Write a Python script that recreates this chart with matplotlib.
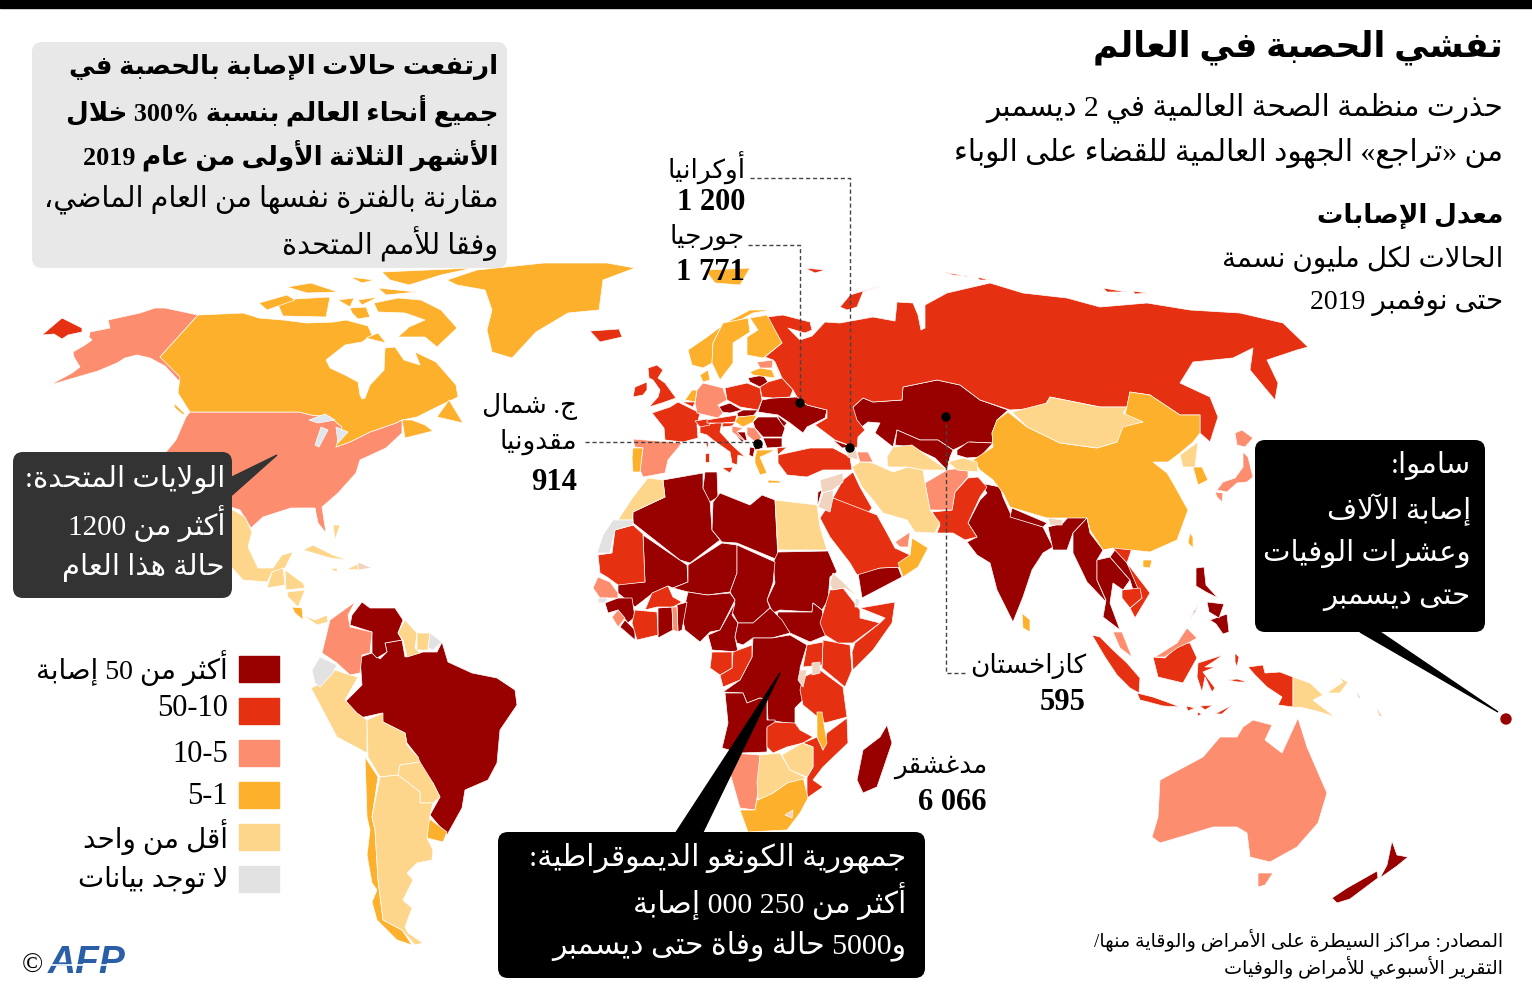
import re
import matplotlib
matplotlib.use('Agg')
import matplotlib.pyplot as plt
from matplotlib.patches import Polygon, FancyBboxPatch, Rectangle, Circle

# digits from the serif, Arabic falls through to DejaVu Sans
plt.rcParams['font.family'] = ['Liberation Serif', 'DejaVu Sans']

# colours of the classes
DARK = '#990000'
RED = '#e63012'
SALMON = '#fd8d6f'
ORANGE = '#fdb02c'
LIGHT = '#fdd68c'
GREY = '#e2e2e2'
PALE = '#f1d4c0'
LAKE = '#dfe6ee'

# country outlines, grouped by class
over_50 = {
    'brazil': [(360,657),(372,653),(380,659),(387,652),(385,643),(402,640),(405,657),(423,652),(437,652),(442,642),(448,662),(472,673),(497,678),(515,690),(517,705),(500,730),(497,763),(488,780),(465,790),(462,808),(447,835),(430,815),(440,797),(433,783),(420,773),(418,757),(407,743),(405,733),(383,722),(382,713),(360,718),(345,702),(362,685)],
    'venezuela': [(352,615),(362,602),(370,608),(395,608),(403,620),(398,633),(402,640),(385,643),(387,652),(377,658),(372,653),(372,632),(350,625)],
    'algeria': [(663,480),(703,473),(703,488),(710,500),(712,530),(720,540),(690,563),(680,560),(633,523),(633,512),(665,497)],
    'tunisia': [(705,472),(717,472),(718,497),(710,502),(703,488)],
    'libya': [(713,502),(720,493),(750,505),(762,495),(775,500),(778,560),(737,543),(722,542),(712,530)],
    'sudan': [(778,552),(828,551),(837,572),(830,577),(828,600),(822,610),(813,603),(812,612),(780,610),(773,613),(767,600),(775,583),(773,563)],
    'south_sudan': [(778,612),(812,612),(813,603),(822,610),(827,635),(810,642),(790,633),(777,618)],
    'mali': [(643,535),(687,565),(688,582),(673,588),(668,586),(653,593),(635,607),(618,593),(618,584),(645,582)],
    'niger': [(688,565),(722,543),(737,545),(737,573),(730,592),(707,595),(688,592),(673,588),(688,582)],
    'chad': [(737,545),(775,562),(773,583),(767,600),(770,608),(753,623),(738,623),(732,612),(735,600),(730,592),(737,573)],
    'nigeria': [(688,592),(707,595),(730,593),(735,600),(720,630),(710,632),(700,642),(685,630),(682,617)],
    'cameroon': [(735,603),(732,615),(738,623),(735,637),(738,652),(712,650),(708,635),(720,630)],
    'car': [(770,608),(782,620),(790,633),(772,638),(753,638),(743,645),(737,643),(735,637),(738,623),(753,623)],
    'drc': [(753,638),(772,638),(790,635),(807,645),(800,668),(803,700),(795,708),(795,723),(800,730),(787,723),(768,720),(767,700),(760,698),(747,703),(743,693),(723,692),(740,680),(752,657)],
    'angola': [(725,693),(743,693),(747,703),(760,698),(767,700),(767,720),(775,720),(775,727),(767,728),(767,752),(740,753),(722,748),(728,723)],
    'guinea': [(605,603),(618,598),(632,598),(635,617),(628,623),(618,610),(608,613)],
    'liberia': [(620,627),(625,620),(635,630),(635,640),(627,633)],
    'ghana': [(658,608),(672,607),(673,630),(658,638)],
    'benin': [(677,605),(687,602),(682,630),(678,632)],
    'madagascar': [(887,725),(892,743),(877,787),(863,793),(857,780),(863,750),(880,737)],
    'yemen': [(858,573),(880,568),(898,567),(902,577),(862,598)],
    'israel': [(818,492),(822,490),(817,508)],
    'kazakhstan': [(853,407),(863,398),(873,402),(902,400),(903,387),(937,380),(960,385),(980,400),(1008,410),(997,420),(992,433),(993,443),(970,442),(953,450),(938,440),(920,440),(897,430),(893,447),(875,433),(880,423),(868,422),(858,430),(853,417)],
    'uzbekistan': [(897,430),(920,440),(938,440),(953,450),(950,457),(947,470),(935,458),(912,447),(895,445)],
    'kyrgyzstan': [(957,450),(968,442),(993,443),(980,457),(967,458),(957,455)],
    'india': [(980,483),(1000,487),(1003,497),(1012,517),(1043,527),(1053,547),(1043,553),(1032,570),(1023,597),(1013,622),(997,590),(990,563),(977,555),(967,542),(977,537),(968,523),(980,500),(987,493)],
    'ne_india': [(1048,527),(1063,523),(1070,515),(1080,513),(1087,518),(1073,533),(1067,550),(1053,550)],
    'nepal': [(1012,508),(1047,523),(1043,527),(1010,517)],
    'myanmar': [(1087,518),(1090,533),(1103,550),(1097,560),(1097,580),(1107,603),(1087,582),(1073,553),(1073,533)],
    'thailand': [(1097,560),(1110,557),(1130,580),(1123,590),(1113,583),(1110,603),(1120,630),(1103,617),(1106,600),(1097,580)],
    'laos': [(1110,557),(1117,547),(1127,563),(1140,587),(1133,590),(1130,580)],
    'luzon': [(1196,568),(1204,567),(1206,585),(1218,598),(1206,592),(1196,586)],
    'mindanao': [(1210,620),(1227,614),(1229,632),(1223,634),(1216,624)],
    'visayas': [(1207,602),(1224,604),(1219,618),(1209,612)],
    'palawan': [(1198,604),(1190,619),(1195,612)],
    'nz_south': [(1332,898),(1347,888),(1377,871),(1378,878),(1350,899),(1337,903)],
    'nz_north': [(1392,841),(1397,855),(1408,857),(1397,866),(1380,878),(1387,865)],
    'ukraine': [(762,400),(773,398),(797,397),(807,405),(827,410),(825,418),(807,427),(803,433),(790,423),(778,415),(758,412)],
    'moldova': [(777,415),(787,423),(783,428)],
    'romania': [(753,422),(758,417),(777,417),(785,428),(782,437),(763,437),(755,428)],
    'bulgaria': [(763,438),(782,438),(782,447),(767,448)],
    'bosnia': [(733,432),(745,432),(747,440),(742,442)],
    'albania': [(750,447),(755,448),(753,457),(749,455)],
    'macedonia': [(753,442),(762,443),(763,448),(755,450)],
    'georgia': [(833,440),(853,447),(842,448)],
    'czechia': [(718,407),(730,403),(742,410),(730,413),(722,412)],
    'slovakia': [(737,413),(743,410),(758,410),(753,416),(738,417)],
    'lithuania': [(748,378),(763,375),(768,382),(760,387),(750,382)],
}
from_10_to_50 = {
    'russia': [(767,317),(783,315),(810,322),(812,330),(805,333),(788,328),(800,340),(812,336),(825,322),(840,323),(873,317),(895,321),(897,302),(913,303),(918,315),(921,330),(925,328),(925,305),(947,293),(990,283),(1023,293),(1067,298),(1100,307),(1147,303),(1190,310),(1240,313),(1283,323),(1308,347),(1297,350),(1267,360),(1278,383),(1275,400),(1250,370),(1253,348),(1233,358),(1193,362),(1180,383),(1210,397),(1218,417),(1210,442),(1200,433),(1200,415),(1180,415),(1150,395),(1130,392),(1127,407),(1100,407),(1050,397),(1043,408),(1010,410),(980,400),(960,385),(937,380),(903,387),(902,400),(873,402),(863,398),(853,407),(857,420),(865,430),(858,437),(857,448),(835,440),(815,425),(827,418),(827,410),(807,405),(797,397),(793,390),(782,378),(775,362),(773,360),(765,357),(782,343)],
    'sakhalin': [(1208,385),(1238,425),(1227,410)],
    'novaya_zemlya': [(840,307),(850,295),(883,285),(863,292),(857,307),(847,310)],
    'arctic_1': [(943,272),(973,277),(953,275)],
    'arctic_2': [(977,277),(990,280),(980,280)],
    'arctic_3': [(1103,288),(1127,292),(1107,292)],
    'arctic_4': [(1133,291),(1147,293),(1135,294)],
    'arctic_5': [(805,268),(825,270),(815,273)],
    'chukotka': [(42,335),(62,318),(70,322),(82,328),(82,332),(68,335),(62,339),(54,334)],
    'iceland': [(590,331),(619,329),(622,337),(600,342)],
    'uk': [(648,368),(657,365),(663,370),(658,378),(665,383),(676,398),(662,403),(649,407),(658,397),(660,390),(653,380),(649,378)],
    'ireland': [(633,397),(635,387),(647,382),(647,390),(643,395)],
    'france': [(652,413),(670,407),(678,402),(700,413),(697,425),(698,438),(683,442),(665,440),(664,428)],
    'belgium': [(682,402),(695,402),(693,407)],
    'poland': [(725,388),(747,383),(760,388),(762,400),(758,410),(740,407),(727,400)],
    'belarus': [(760,387),(768,382),(782,378),(793,390),(790,397),(773,398),(762,397)],
    'italy': [(700,425),(722,422),(720,432),(732,445),(745,457),(738,455),(737,465),(732,463),(730,452),(713,440),(707,435),(700,433)],
    'sicily': [(722,468),(733,467),(730,473)],
    'sardinia': [(705,453),(709,453),(709,462),(705,462)],
    'corsica': [(706,443),(709,443),(707,449)],
    'switzerland': [(695,421),(707,419),(710,425),(700,427)],
    'austria': [(707,420),(718,418),(737,415),(735,422),(723,423),(707,423)],
    'slovenia': [(723,423),(735,423),(732,426),(722,427)],
    'turkey': [(778,455),(810,448),(833,448),(850,457),(852,470),(823,470),(807,477),(787,475),(778,463)],
    'turkey_eu': [(777,448),(787,447),(778,455)],
    'iraq': [(833,498),(843,480),(853,472),(860,487),(872,508),(868,513),(853,508)],
    'saudi': [(820,518),(833,498),(877,515),(887,533),(895,548),(910,555),(905,567),(880,568),(857,575),(850,563),(830,537)],
    'pakistan': [(932,512),(952,510),(955,492),(968,478),(978,477),(987,487),(980,497),(968,523),(977,537),(965,540),(953,533),(937,533),(940,525)],
    'vietnam': [(1113,548),(1133,545),(1127,563),(1150,593),(1135,618),(1130,608),(1142,598),(1127,563)],
    'cambodia': [(1122,590),(1140,588),(1142,598),(1130,608),(1122,598)],
    'sumatra': [(1092,635),(1100,637),(1113,650),(1127,663),(1140,678),(1139,693),(1130,688),(1117,675),(1105,657)],
    'java': [(1137,693),(1153,697),(1167,702),(1180,707),(1163,706),(1148,702),(1140,700)],
    'sunda_1': [(1186,706),(1195,708),(1188,711)],
    'sunda_2': [(1200,706),(1213,705),(1205,710)],
    'sunda_3': [(1197,712),(1202,714),(1198,716)],
    'sunda_4': [(1215,714),(1232,705),(1222,714)],
    'kalimantan': [(1153,657),(1165,658),(1180,643),(1190,643),(1197,658),(1183,683),(1158,677)],
    'sulawesi': [(1198,663),(1223,655),(1213,662),(1205,667),(1215,667),(1203,672),(1215,688),(1212,692),(1205,677),(1202,692),(1197,677)],
    'halmahera': [(1235,653),(1239,657),(1237,667),(1235,662)],
    'seram': [(1228,680),(1237,679),(1248,682),(1238,682)],
    'papua': [(1248,667),(1263,665),(1265,673),(1280,672),(1293,677),(1293,707),(1278,705),(1282,697),(1267,687),(1255,675)],
    'mauritania': [(633,525),(643,534),(645,582),(618,585),(607,577),(600,573),(598,555),(612,553),(615,530)],
    'ivory_coast': [(632,623),(635,610),(657,612),(658,635),(637,640)],
    'burkina': [(645,610),(652,593),(668,586),(673,597),(682,602),(673,607),(657,607)],
    'congo': [(733,652),(752,645),(752,657),(740,680),(723,687),(720,675),(732,668)],
    'gabon': [(712,652),(732,652),(732,668),(720,675),(710,668)],
    'zambia': [(767,727),(775,722),(795,723),(800,730),(813,737),(803,743),(787,747),(773,753),(767,747)],
    'mozambique': [(803,743),(817,737),(823,750),(827,733),(847,718),(848,743),(823,767),(813,780),(823,787),(807,798),(807,777),(813,767),(813,747)],
    'tanzania': [(803,677),(820,670),(843,687),(847,717),(825,723),(803,705),(800,690)],
    'kenya': [(823,640),(850,645),(852,670),(845,687),(822,668)],
    'uganda': [(807,645),(823,642),(822,665),(803,667)],
    'ethiopia': [(820,623),(830,590),(843,588),(860,610),(860,618),(880,623),(853,643),(838,643),(825,635)],
    'somalia': [(860,608),(895,602),(892,623),(873,650),(853,670),(852,652),(855,643),(880,623),(885,618)],
}
from_5_to_10 = {
    'alaska': [(198,315),(160,357),(178,370),(183,378),(179,381),(165,366),(150,358),(137,355),(125,358),(117,363),(98,371),(50,385),(72,373),(80,367),(74,357),(73,352),(85,345),(92,340),(89,337),(90,332),(110,328),(108,320),(140,313),(155,308),(165,308)],
    'usa': [(190,412),(299,412),(311,415),(330,417),(342,427),(336,447),(350,442),(370,432),(396,423),(402,420),(402,433),(386,448),(360,460),(356,473),(338,493),(322,507),(326,533),(318,523),(315,508),(291,508),(263,517),(251,528),(240,510),(225,505),(175,470),(166,452),(176,440),(186,417)],
    'colombia': [(355,602),(348,615),(350,627),(372,632),(370,653),(362,655),(360,673),(350,675),(337,663),(322,653),(330,620)],
    'germany': [(703,383),(723,388),(727,400),(718,405),(723,413),(718,418),(697,413),(695,403),(697,390)],
    'spain': [(633,439),(682,443),(668,460),(665,473),(643,477),(640,470),(643,448),(635,447)],
    'estonia': [(757,362),(773,360),(772,368),(760,368)],
    'serbia': [(747,427),(755,428),(762,438),(755,442),(747,435)],
    'croatia': [(732,426),(743,428),(737,432),(747,443),(732,432)],
    'senegal': [(593,588),(598,577),(610,582),(618,593),(618,598),(600,598)],
    'sierra_leone': [(612,617),(618,610),(625,618),(618,627)],
    'togo': [(672,607),(677,607),(678,632),(673,630)],
    'namibia': [(733,753),(760,755),(760,780),(755,810),(740,808),(730,773)],
    'azerbaijan': [(857,452),(868,452),(873,462),(860,462)],
    'afghanistan': [(925,483),(947,470),(968,467),(968,477),(955,492),(952,510),(930,510)],
    'uae': [(895,542),(910,532),(908,547),(900,547)],
    'honshu': [(1243,452),(1248,457),(1253,477),(1247,482),(1237,483),(1227,492),(1217,490),(1223,482),(1235,478),(1243,467)],
    'hokkaido': [(1235,433),(1242,430),(1253,438),(1245,447),(1237,445)],
    'kyushu': [(1215,492),(1223,493),(1222,502),(1217,497)],
    'malaya': [(1113,632),(1122,632),(1132,657),(1120,648)],
    'sarawak': [(1155,657),(1177,643),(1187,628),(1197,638),(1190,642),(1177,648),(1165,657)],
    'australia': [(1253,720),(1272,725),(1265,740),(1282,753),(1298,718),(1307,747),(1320,777),(1327,793),(1318,823),(1297,847),(1270,862),(1250,857),(1247,833),(1237,827),(1213,827),(1187,835),(1160,843),(1152,837),(1158,817),(1160,780),(1203,757),(1220,737),(1237,737),(1243,727)],
    'tasmania': [(1258,873),(1273,873),(1265,885),(1258,887)],
}
from_1_to_5 = {
    'canada': [(198,315),(243,313),(259,318),(283,320),(307,323),(334,322),(346,320),(368,326),(372,335),(362,342),(345,345),(326,360),(330,368),(345,375),(358,382),(360,395),(362,399),(365,398),(370,385),(384,370),(385,348),(395,347),(404,360),(420,365),(415,352),(436,362),(456,385),(458,397),(437,407),(417,417),(402,420),(396,423),(370,432),(350,442),(336,447),(342,427),(330,417),(311,415),(299,412),(190,412),(178,393),(180,377),(160,357)],
    'maritimes': [(402,420),(412,420),(425,425),(433,431),(405,438)],
    'newfoundland': [(437,417),(449,400),(463,423),(450,420)],
    'vancouver': [(174,403),(186,415),(182,414),(175,408)],
    'baffin': [(374,303),(398,298),(421,300),(441,310),(457,328),(437,347),(425,337),(398,337),(409,327),(425,320),(405,313),(378,312)],
    'victoria': [(276,300),(330,297),(326,317),(283,316)],
    'banks': [(259,303),(287,295),(295,300),(267,310)],
    'ellesmere': [(382,272),(473,268),(441,275),(409,285),(390,280)],
    'arctic_a': [(287,287),(311,283),(338,292),(307,293)],
    'arctic_b': [(350,277),(374,280),(362,283)],
    'arctic_c': [(378,288),(417,292),(386,295)],
    'arctic_d': [(338,300),(354,298),(350,307)],
    'arctic_e': [(358,300),(378,297),(362,305)],
    'arctic_f': [(350,308),(366,307),(370,317),(358,319),(352,313)],
    'southampton': [(366,338),(378,333),(386,343)],
    'greenland': [(447,280),(477,270),(544,263),(607,263),(635,268),(603,280),(599,310),(568,313),(536,332),(512,358),(492,352),(487,330),(492,310),(485,290),(457,285)],
    'svalbard': [(705,270),(750,268),(740,285),(715,283)],
    'norway': [(688,350),(707,337),(727,322),(750,310),(772,310),(753,313),(740,320),(723,323),(713,343),(712,363),(703,368),(692,365)],
    'sweden': [(723,323),(748,318),(750,332),(733,343),(733,363),(720,380),(712,363),(713,343)],
    'finland': [(750,318),(767,315),(782,343),(763,358),(747,355),(747,337),(758,330)],
    'denmark': [(700,375),(708,370),(710,380),(703,382)],
    'latvia': [(750,372),(760,368),(772,370),(775,378),(753,375)],
    'netherlands': [(685,400),(692,390),(697,390),(695,402)],
    'portugal': [(632,458),(633,448),(643,448),(640,472),(633,472)],
    'hungary': [(735,422),(738,417),(757,415),(753,422),(743,427)],
    'greece': [(755,457),(757,450),(775,450),(765,455),(760,457),(767,473),(760,475),(755,463)],
    'crete': [(768,480),(780,481),(780,483),(768,483)],
    'costa_rica': [(292,607),(302,608),(303,620),(295,613)],
    'uruguay': [(427,817),(447,832),(443,842),(427,838)],
    'chile': [(365,757),(378,777),(372,817),(375,830),(378,880),(383,920),(402,930),(412,945),(397,940),(377,920),(372,902),(377,890),(372,883),(367,855),(370,830),(367,817)],
    'china': [(1008,412),(1027,427),(1060,443),(1097,448),(1117,442),(1123,425),(1143,422),(1125,415),(1130,392),(1150,395),(1180,415),(1200,415),(1200,433),(1193,442),(1180,453),(1168,462),(1153,462),(1167,473),(1173,483),(1188,510),(1177,540),(1150,552),(1113,548),(1103,550),(1090,530),(1087,518),(1047,518),(1010,507),(1003,493),(993,480),(980,470),(973,460),(993,447),(992,433),(997,420)],
    'south_korea': [(1193,467),(1202,467),(1208,480),(1198,485)],
    'taiwan': [(1190,533),(1193,537),(1193,548),(1188,543)],
    'hainan': [(1143,560),(1152,560),(1150,568),(1143,567)],
    'sri_lanka': [(1022,613),(1030,620),(1030,632),(1023,628)],
    'oman': [(898,563),(910,555),(912,538),(928,548),(918,567),(903,577)],
    'malawi': [(817,712),(822,712),(827,743),(823,750),(817,737)],
    'south_africa': [(757,800),(773,793),(787,783),(803,777),(808,798),(800,813),(787,830),(748,832),(740,810),(755,810)],
}
under_1 = {
    'mexico': [(233,510),(245,517),(252,532),(248,547),(258,568),(273,568),(282,555),(293,552),(285,568),(272,572),(267,582),(243,580),(225,560),(225,510)],
    'guatemala': [(272,572),(283,568),(285,585),(267,588)],
    'honduras': [(285,570),(303,583),(305,588),(286,590)],
    'nicaragua': [(287,592),(305,590),(298,607),(288,597)],
    'panama': [(303,615),(315,620),(327,615),(328,622),(317,625)],
    'cuba': [(303,550),(313,545),(333,555),(348,560),(330,558)],
    'haiti': [(347,569),(358,564),(358,570)],
    'jamaica': [(330,569),(337,568),(337,572)],
    'bahamas': [(333,525),(340,525),(335,540)],
    'guyana': [(405,620),(417,633),(415,648),(420,653),(407,657),(403,640),(398,633)],
    'suriname': [(417,633),(430,633),(428,650),(417,650)],
    'peru': [(311,688),(317,685),(335,670),(350,675),(358,677),(345,700),(357,713),(367,720),(367,753),(337,737)],
    'bolivia': [(367,720),(383,713),(383,722),(405,733),(407,745),(418,757),(420,762),(400,765),(398,775),(380,777),(368,757)],
    'paraguay': [(400,765),(420,762),(433,783),(440,797),(433,803),(420,803),(420,792),(398,775)],
    'argentina': [(380,777),(398,775),(420,792),(420,803),(433,803),(430,815),(427,838),(433,850),(432,860),(417,863),(407,873),(413,880),(403,900),(412,908),(405,927),(408,933),(423,943),(415,945),(402,930),(383,920),(378,880),(375,830),(372,817)],
    'morocco': [(648,478),(663,480),(665,497),(633,512),(632,520),(618,520),(633,497)],
    'egypt': [(775,500),(817,505),(820,527),(827,550),(778,550)],
    'botswana': [(760,755),(780,753),(790,770),(807,778),(787,783),(773,793),(758,800),(757,782)],
    'zimbabwe': [(782,755),(802,743),(813,747),(813,767),(807,777),(790,770)],
    'iran': [(852,467),(860,462),(873,463),(893,472),(908,467),(923,470),(925,483),(930,510),(940,523),(935,533),(915,532),(907,520),(883,513),(873,500),(862,487)],
    'turkmenistan': [(887,457),(893,447),(912,445),(937,463),(947,470),(923,470),(908,467),(888,467)],
    'tajikistan': [(948,462),(963,458),(977,462),(978,472),(957,470)],
    'mongolia': [(1012,412),(1047,403),(1050,397),(1100,407),(1127,407),(1123,413),(1143,422),(1123,427),(1117,442),(1097,448),(1060,443),(1027,427)],
    'north_korea': [(1180,455),(1198,442),(1195,467),(1183,467)],
    'png': [(1293,677),(1310,683),(1323,695),(1313,700),(1335,717),(1320,712),(1300,707),(1293,708)],
    'new_britain': [(1327,693),(1343,682),(1338,677),(1348,682),(1340,693)],
}
no_data = {
    'french_guiana': [(430,633),(442,642),(433,650),(428,648)],
    'ecuador': [(312,670),(320,657),(337,665),(333,673),(320,687),(315,683)],
    'western_sahara': [(613,520),(633,520),(633,525),(615,530),(610,553),(597,553),(603,535)],
    'guinea_bissau': [(598,598),(608,598),(605,603),(598,603)],
    'djibouti': [(855,598),(860,600),(858,607),(855,607)],
}
pale_countries = {
    'dominican': [(358,562),(372,568),(358,570)],
    'syria': [(820,480),(843,473),(843,482),(833,490),(822,493)],
    'jordan': [(823,493),(833,490),(833,498),(830,512),(818,507)],
    'eritrea': [(830,583),(833,573),(843,582),(858,597),(845,588),(832,590)],
    'rwanda': [(800,670),(807,670),(803,687),(798,680)],
    'lake_region': [(812,663),(820,662),(820,673),(812,675)],
    'armenia': [(845,448),(856,450),(858,460),(848,457)],
    'bhutan': [(1048,518),(1063,520),(1062,525),(1050,525)],
    'solomons_1': [(1355,690),(1361,697),(1359,699)],
    'solomons_2': [(1375,705),(1383,717),(1379,716)],
    'lesotho': [(785,815),(793,810),(792,818)],
}
great_lakes = {
    'superior': [(309,420),(325,414),(335,420),(318,423)],
    'michigan': [(321,427),(328,430),(319,447),(315,445)],
    'huron': [(336,427),(348,432),(338,443)],
}

classes = [(over_50, DARK), (from_10_to_50, RED), (from_5_to_10, SALMON), (from_1_to_5, ORANGE),
           (under_1, LIGHT), (no_data, GREY), (pale_countries, PALE), (great_lakes, LAKE)]

legend_labels = ['أكثر من 50 إصابة', '50-10', '10-5', '5-1', 'أقل من واحد', 'لا توجد بيانات']
legend_colors = [DARK, RED, SALMON, ORANGE, LIGHT, GREY]

title = 'تفشي الحصبة في العالم'
subtitle = ['حذرت منظمة الصحة العالمية في 2 ديسمبر', 'من «تراجع» الجهود العالمية للقضاء على الوباء']
rate_head = 'معدل الإصابات'
rate_lines = ['الحالات لكل مليون نسمة', 'حتى نوفمبر 2019']
box_bold = ['ارتفعت حالات الإصابة بالحصبة في', 'جميع أنحاء العالم بنسبة 300% خلال', 'الأشهر الثلاثة الأولى من عام 2019']
box_plain = ['مقارنة بالفترة نفسها من العام الماضي،', 'وفقا للأمم المتحدة']
us_note = ['الولايات المتحدة:', 'أكثر من 1200', 'حالة هذا العام']
samoa_note = ['ساموا:', 'إصابة الآلاف', 'وعشرات الوفيات', 'حتى ديسمبر']
drc_note = ['جمهورية الكونغو الديموقراطية:', 'أكثر من 250 000 إصابة', 'و5000 حالة وفاة حتى ديسمبر']
source = ['المصادر: مراكز السيطرة على الأمراض والوقاية منها/', 'التقرير الأسبوعي للأمراض والوفيات']

# joining forms: isolated code point, and how many forms it has
FORMS = {'ء': (0xFE80, 1), 'آ': (0xFE81, 2), 'أ': (0xFE83, 2), 'ؤ': (0xFE85, 2), 'إ': (0xFE87, 2),
         'ئ': (0xFE89, 4), 'ا': (0xFE8D, 2), 'ب': (0xFE8F, 4), 'ة': (0xFE93, 2), 'ت': (0xFE95, 4),
         'ث': (0xFE99, 4), 'ج': (0xFE9D, 4), 'ح': (0xFEA1, 4), 'خ': (0xFEA5, 4), 'د': (0xFEA9, 2),
         'ذ': (0xFEAB, 2), 'ر': (0xFEAD, 2), 'ز': (0xFEAF, 2), 'س': (0xFEB1, 4), 'ش': (0xFEB5, 4),
         'ص': (0xFEB9, 4), 'ض': (0xFEBD, 4), 'ط': (0xFEC1, 4), 'ظ': (0xFEC5, 4), 'ع': (0xFEC9, 4),
         'غ': (0xFECD, 4), 'ف': (0xFED1, 4), 'ق': (0xFED5, 4), 'ك': (0xFED9, 4), 'ل': (0xFEDD, 4),
         'م': (0xFEE1, 4), 'ن': (0xFEE5, 4), 'ه': (0xFEE9, 4), 'و': (0xFEED, 2), 'ى': (0xFEEF, 2),
         'ي': (0xFEF1, 4)}
LAM_ALEF = {'ا': 0xFEFB, 'أ': 0xFEF7, 'إ': 0xFEF9, 'آ': 0xFEF5}
MIRROR = {'«': '»', '»': '«'}


def shape_word(word):
    # logical order in, presentation forms in logical order out
    out = []
    i = 0
    prev_joins = False
    while i < len(word):
        c = word[i]
        if c not in FORMS:
            out.append(c)
            prev_joins = False
            i += 1
            continue
        if c == 'ل' and i + 1 < len(word) and word[i + 1] in LAM_ALEF:
            out.append(chr(LAM_ALEF[word[i + 1]] + (1 if prev_joins else 0)))
            prev_joins = False
            i += 2
            continue
        base, n = FORMS[c]
        next_ok = i + 1 < len(word) and word[i + 1] in FORMS
        if n == 1:
            out.append(chr(base))
            prev_joins = False
        elif n == 2:
            out.append(chr(base + (1 if prev_joins else 0)))
            prev_joins = False
        else:
            if prev_joins and next_ok:
                out.append(chr(base + 3))
            elif prev_joins:
                out.append(chr(base + 1))
            elif next_ok:
                out.append(chr(base + 2))
            else:
                out.append(chr(base))
            prev_joins = next_ok
        i += 1
    return ''.join(out)


def ar(line):
    # matplotlib does no shaping or bidi, so hand it the visual order
    words = []
    for word in line.split(' '):
        runs = re.findall(r'[0-9%\-]+|[^0-9%\-]+', word)
        vis = []
        for run in reversed(runs):
            if re.match(r'[0-9%\-]', run):
                vis.append(run)
            else:
                vis.append(''.join(MIRROR.get(c, c) for c in reversed(shape_word(run))))
        words.append(''.join(vis))
    return ' '.join(reversed(words))


fig = plt.figure(figsize=(15.32, 9.92), dpi=100)
ax = fig.add_axes([0, 0, 1, 1])
ax.set_xlim(0, 1532)
ax.set_ylim(992, 0)
ax.axis('off')

ax.add_patch(Rectangle((0, 0), 1532, 8, color='black', zorder=9))

for group, color in classes:
    for name, outline in group.items():
        ax.add_patch(Polygon(outline, closed=True, facecolor=color, edgecolor='white', linewidth=0.5,
                             joinstyle='round', zorder=2))
ax.add_patch(Circle((1506, 719), 5, color=DARK, zorder=6))


def rbox(x0, y0, x1, y1, color, z=5, r=10):
    ax.add_patch(FancyBboxPatch((x0 + r, y0 + r), x1 - x0 - 2 * r, y1 - y0 - 2 * r,
                                boxstyle='round,pad=%d,rounding_size=%d' % (r, r),
                                facecolor=color, edgecolor='none', zorder=z))


def put(x, y, s, size, color='black', bold=False, raw=False):
    ax.text(x, y, s if raw else ar(s), fontsize=size, color=color, ha='right', va='center',
            fontweight='bold' if bold else 'normal', zorder=8)


# leader lines
LEAD = dict(color='#444444', linewidth=1, linestyle=(0, (3, 2)), zorder=4)
ax.plot([750, 850, 850], [178, 178, 448], **LEAD)
ax.plot([748, 800, 800], [245, 245, 403], **LEAD)
ax.plot([585, 758], [442, 442], **LEAD)
ax.plot([946, 946, 965], [417, 673, 673], **LEAD)
for x, y in [(800, 403), (850, 448), (758, 444), (946, 417)]:
    ax.add_patch(Circle((x, y), 4, color='black', zorder=5))

# header
put(1503, 47, title, 25, bold=True)
put(1503, 108, subtitle[0], 21.3)
put(1503, 153, subtitle[1], 21.3)
put(1503, 216, rate_head, 19, bold=True)
put(1503, 260, rate_lines[0], 20)
put(1503, 304, rate_lines[1], 20)

# grey text box
rbox(32, 42, 507, 268, '#e8e8e8', z=3)
for y, s in zip([67, 111, 155], box_bold):
    put(498, y, s, 18.8, bold=True)
for y, s in zip([199, 244], box_plain):
    put(498, y, s, 20.6)

# country labels
put(745, 168, 'أوكرانيا', 19)
put(745, 203, '1 200', 22, bold=True, raw=True)
put(745, 237, 'جورجيا', 19)
put(745, 272, '1 771', 22, bold=True, raw=True)
put(577, 406, 'ج. شمال', 19)
put(577, 442, 'مقدونيا', 19)
put(577, 482, '914', 22, bold=True, raw=True)
put(1086, 666, 'كازاخستان', 19)
put(1086, 702, '595', 22, bold=True, raw=True)
put(987, 767, 'مدغشقر', 19)
put(987, 803, '6 066', 22, bold=True, raw=True)

# callouts
ax.add_patch(Polygon([(232, 477), (277, 455), (232, 495)], color='#333333', zorder=5))
rbox(13, 452, 232, 598, '#333333')
for y, s in zip([480, 524, 568], us_note):
    put(225, y, s, 21, color='white')

ax.add_patch(Polygon([(1360, 632), (1498, 712), (1380, 632)], color='black', zorder=5))
rbox(1255, 440, 1485, 632, 'black')
for y, s in zip([466, 510, 554, 598], samoa_note):
    put(1471, y, s, 21, color='white')

ax.add_patch(Polygon([(675, 834), (780, 673), (702, 834)], color='black', zorder=5))
rbox(498, 832, 925, 978, 'black')
for y, s in zip([858, 902, 946], drc_note):
    put(906, y, s, 21.5, color='white')

# legend
legend_y = [668, 708, 755, 796, 837, 880]
legend_size = [20, 22, 22, 22, 20, 20]
for i, (label, color) in enumerate(zip(legend_labels, legend_colors)):
    ax.add_patch(Rectangle((239, 656 + 42 * i), 40, 26, color=color, zorder=3))
    put(228, legend_y[i], label, legend_size[i])

# source and credit
put(1503, 941, source[0], 13.8)
put(1503, 967, source[1], 13.8)
ax.text(32, 966, '©', fontsize=20, ha='center', va='center', color='black')
ax.text(87, 963, 'AFP', fontsize=28, ha='center', va='center', color='#2a5fa8',
        fontweight='bold', fontstyle='italic', family='Liberation Sans')
ax.plot([50, 125], [965, 965], color='white', linewidth=1.2, zorder=7)

fig.savefig('out.png', dpi=100)
